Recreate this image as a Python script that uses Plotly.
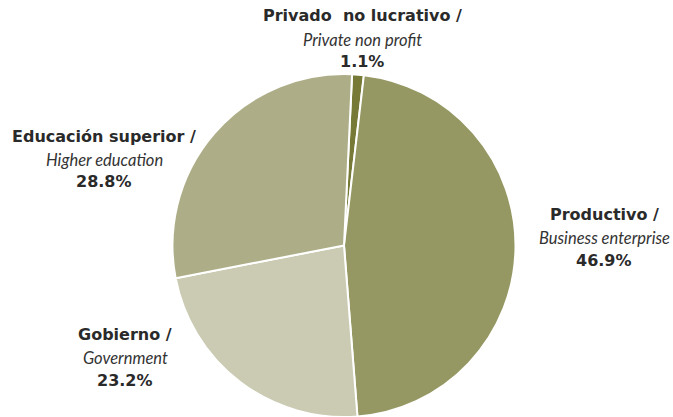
import plotly.graph_objects as go

labels_es = ["Privado  no lucrativo /", "Productivo /", "Gobierno /", "Educación superior /"]
labels_en = ["Private non profit", "Business enterprise", "Government", "Higher education"]
values = [1.1, 46.9, 23.2, 28.8]
colors = ["#767a36", "#959863", "#cbcbb3", "#adae87"]

# label anchor positions (pixels: center x, first line y)
label_pos = [(362, 16), (604, 214), (125, 334), (104, 136)]

W, H = 673, 417
cx, cy, r = 344, 245.5, 172

fig = go.Figure(go.Pie(
    labels=[f"{a} {b}" for a, b in zip(labels_es, labels_en)],
    values=values,
    sort=False,
    direction="clockwise",
    rotation=2.7,
    marker=dict(colors=colors, line=dict(color="white", width=2)),
    textinfo="none",
    hoverinfo="label+percent",
    domain=dict(x=[(cx - r) / W, (cx + r) / W], y=[0, (H - 74) / H]),
))

anns = []
for es, en, v, (x, y) in zip(labels_es, labels_en, values, label_pos):
    lines = [
        (f"<b>{es}</b>", "DejaVu Sans", 16, "#2a2a2a", 0),
        (f"<i>{en}</i>", "Lato", 16.5, "#333333", 24),
        (f"<b>{v:.1f}%</b>", "DejaVu Sans", 16, "#2a2a2a", 46),
    ]
    for txt, fam, size, col, dy in lines:
        anns.append(dict(
            text=txt, x=x / W, y=1 - (y + dy) / H, xref="paper", yref="paper",
            xanchor="center", yanchor="middle", showarrow=False,
            font=dict(family=fam, size=size, color=col),
        ))

fig.update_layout(
    width=W, height=H,
    margin=dict(l=0, r=0, t=0, b=0),
    paper_bgcolor="white", plot_bgcolor="white",
    showlegend=False,
    annotations=anns,
)

fig.write_html("out.html", config={"displayModeBar": False},
               post_script="document.body.style.margin='0';")
